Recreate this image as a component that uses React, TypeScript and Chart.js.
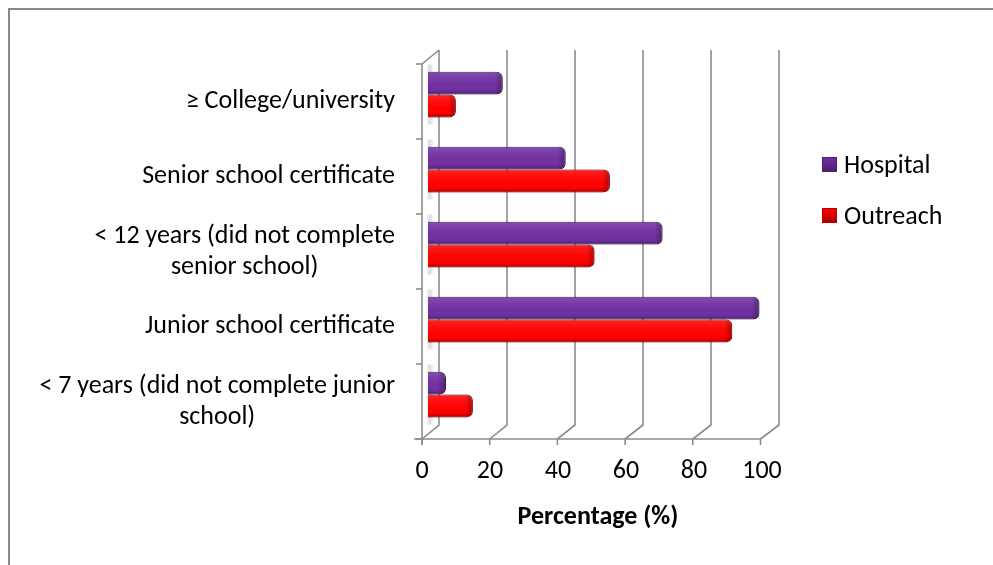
import React, { useEffect, useRef } from "react";
import { Chart, registerables } from "chart.js";

Chart.register(...registerables);

const categories: (string | string[])[] = [
  "≥ College/university",
  "Senior school certificate",
  ["< 12 years (did not complete", "senior school)"],
  "Junior school certificate",
  ["< 7 years (did not complete junior", "school)"],
];
const hospital = [22, 40.5, 69, 97.5, 5.3];
const outreach = [8.2, 53.5, 49, 89.5, 13.2];
const xTicks = [0, 20, 40, 60, 80, 100];
const seriesNames = ["Hospital", "Outreach"];
const seriesColors = ["#7030A0", "#FF0000"];
const seriesBorders = ["#4e1f73", "#b00000"];

const FONT = "Carlito, Calibri, Lato, sans-serif";
const FSIZE = 26;
const GRID = "#8c8c8c";

const frame3d = {
  id: "frame3d",
  beforeDraw(chart: any) {
    const { ctx } = chart;
    ctx.save();
    ctx.strokeStyle = "#888";
    ctx.lineWidth = 2;
    ctx.beginPath();
    ctx.moveTo(9, 565);
    ctx.lineTo(9, 9);
    ctx.lineTo(993, 9);
    ctx.stroke();
    ctx.restore();
  },
  beforeDatasetsDraw(chart: any) {
    const { ctx, chartArea } = chart;
    const xs = chart.scales.x;
    const ys = chart.scales.y;
    const top = chartArea.top;
    const bottom = chartArea.bottom;
    const fdx = -6, fdy = 7, bdx = 11, bdy = -7;
    ctx.save();
    ctx.strokeStyle = GRID;
    ctx.lineWidth = 1.6;
    for (const v of xTicks) {
      const x = xs.getPixelForValue(v);
      ctx.beginPath();
      ctx.moveTo(x + bdx, top + bdy);
      ctx.lineTo(x + bdx, bottom + bdy);
      ctx.lineTo(x + fdx - v * 0.015, bottom + fdy);
      ctx.stroke();
    }
    const x0 = xs.getPixelForValue(0);
    ctx.beginPath();
    ctx.moveTo(x0 + fdx, top + fdy);
    ctx.lineTo(x0 + bdx, top + bdy);
    ctx.stroke();
    const n = categories.length;
    for (let i = 0; i < n; i++) {
      const yc = ys.getPixelForValue(i);
      const g = ctx.createLinearGradient(x0 - 2, 0, x0 + 6, 0);
      g.addColorStop(0, "rgba(150,150,150,0.0)");
      g.addColorStop(0.5, "rgba(150,150,150,0.35)");
      g.addColorStop(1, "rgba(150,150,150,0.0)");
      ctx.fillStyle = g;
      ctx.fillRect(x0 - 2, yc - 30, 8, 60);
    }
    const yf = bottom + fdy;
    ctx.beginPath();
    ctx.moveTo(x0 + fdx - 8, yf);
    ctx.lineTo(xs.getPixelForValue(100) + fdx - 1, yf);
    ctx.stroke();
    for (const v of xTicks) {
      const x = xs.getPixelForValue(v) + fdx - v * 0.015;
      ctx.beginPath();
      ctx.moveTo(x, yf);
      ctx.lineTo(x, yf + 6);
      ctx.stroke();
    }
    const xf = x0 + fdx;
    ctx.beginPath();
    ctx.moveTo(xf, top + fdy);
    ctx.lineTo(xf, yf + 6);
    ctx.stroke();
    const step = (bottom - top) / n;
    for (let i = 0; i <= n; i++) {
      const y = top + fdy + i * step;
      ctx.beginPath();
      ctx.moveTo(xf - 6, y);
      ctx.lineTo(xf, y);
      ctx.stroke();
    }
    ctx.restore();
  },
  afterDatasetsDraw(chart: any) {
    const { ctx } = chart;
    chart.data.datasets.forEach((_: any, di: number) => {
      const meta = chart.getDatasetMeta(di);
      meta.data.forEach((el: any) => {
        const { x, y, base, height } = el.getProps(["x", "y", "base", "height"], true);
        const t = y - height / 2;
        const w = x - base;
        if (w <= 0) return;
        ctx.save();
        ctx.beginPath();
        const r = Math.min(6, w / 2, height / 2);
        (ctx as any).roundRect(base, t, w, height, [0, r, r, 0]);
        ctx.clip();
        const g = ctx.createLinearGradient(0, t, 0, t + height);
        g.addColorStop(0, "rgba(0,0,0,0.25)");
        g.addColorStop(0.08, "rgba(255,255,255,0.12)");
        g.addColorStop(0.3, "rgba(255,255,255,0.06)");
        g.addColorStop(0.6, "rgba(255,255,255,0)");
        g.addColorStop(0.85, "rgba(0,0,0,0.05)");
        g.addColorStop(1, "rgba(0,0,0,0.35)");
        ctx.fillStyle = g;
        ctx.fillRect(base, t, w, height);
        const g2 = ctx.createLinearGradient(x - 8, 0, x, 0);
        g2.addColorStop(0, "rgba(0,0,0,0)");
        g2.addColorStop(1, "rgba(0,0,0,0.3)");
        ctx.fillStyle = g2;
        ctx.fillRect(x - 8, t, 8, height);
        ctx.restore();
      });
    });
  },
  afterDraw(chart: any) {
    // category labels: block right-aligned, lines centred within block
    const { ctx } = chart;
    const ys = chart.scales.y;
    const right = 395;
    const lh = 31;
    ctx.save();
    ctx.font = `${FSIZE}px ${FONT}`;
    ctx.fillStyle = "#000";
    ctx.textAlign = "center";
    ctx.textBaseline = "middle";
    categories.forEach((lab, i) => {
      const lines = Array.isArray(lab) ? lab : [lab];
      const maxW = Math.max(...lines.map((l) => ctx.measureText(l).width));
      const cx = right - maxW / 2;
      const cy = ys.getPixelForValue(i) + 7;
      lines.forEach((l, k) => {
        ctx.fillText(l, cx, cy + (k - (lines.length - 1) / 2) * lh);
      });
    });
    ctx.restore();
  },
};

export default function App() {
  const ref = useRef<HTMLCanvasElement | null>(null);
  useEffect(() => {
    document.body.style.margin = "0";
    const canvas = ref.current;
    if (!canvas) return;
    const chart = new Chart(canvas, {
      type: "bar",
      data: {
        labels: categories as any,
        datasets: [
          {
            label: seriesNames[0],
            data: hospital,
            backgroundColor: seriesColors[0],
            borderColor: seriesBorders[0],
            borderWidth: 1,
            borderSkipped: "start",
            borderRadius: 6,
            categoryPercentage: 0.61,
            barPercentage: 1,
          },
          {
            label: seriesNames[1],
            data: outreach,
            backgroundColor: seriesColors[1],
            borderColor: seriesBorders[1],
            borderWidth: 1,
            borderSkipped: "start",
            borderRadius: 6,
            categoryPercentage: 0.61,
            barPercentage: 1,
          },
        ],
      },
      options: {
        indexAxis: "y",
        responsive: false,
        animation: false,
        layout: { padding: { left: 0, top: 57, right: 993 - 768, bottom: 0 } },
        plugins: { legend: { display: false }, tooltip: { enabled: false } },
        scales: {
          x: {
            min: 0,
            max: 100,
            afterFit: (s: any) => {
              s.height = 565 - 432;
            },
            afterBuildTicks: (s: any) => {
              s.ticks = xTicks.map((v) => ({ value: v }));
            },
            grid: { display: false, drawTicks: false },
            border: { display: false },
            ticks: {
              color: "#000",
              font: { family: FONT, size: FSIZE },
              padding: 24,
              labelOffset: -6,
              maxRotation: 0,
            },
            title: {
              display: true,
              text: "Percentage (%)",
              color: "#000",
              font: { family: FONT, size: FSIZE, weight: "bold" },
              padding: { top: 0, bottom: 32 },
            },
          },
          y: {
            afterFit: (s: any) => {
              s.width = 428;
            },
            grid: { display: false, drawTicks: false },
            border: { display: false },
            ticks: { display: false },
          },
        },
      },
      plugins: [frame3d],
    });
    return () => chart.destroy();
  }, []);

  const legendItem = (i: number, cy: number) => (
    <div
      key={i}
      style={{
        position: "absolute",
        left: 822,
        top: cy - 16,
        height: 32,
        display: "flex",
        alignItems: "center",
        fontFamily: FONT,
        fontSize: FSIZE,
        color: "#000",
        lineHeight: "32px",
        whiteSpace: "nowrap",
      }}
    >
      <span
        style={{
          display: "inline-block",
          width: 15,
          height: 15,
          background: `linear-gradient(to bottom, ${seriesColors[i]}, ${seriesBorders[i]})`,
          border: `1px solid ${seriesBorders[i]}`,
          marginRight: 7,
          boxSizing: "border-box",
        }}
      />
      <span>{seriesNames[i]}</span>
    </div>
  );

  return (
    <div style={{ position: "fixed", left: 0, top: 0, width: 993, height: 565, background: "#fff" }}>
      <canvas ref={ref} width={993} height={565} style={{ position: "absolute", left: 0, top: 0 }} />
      {legendItem(0, 164)}
      {legendItem(1, 215)}
    </div>
  );
}
